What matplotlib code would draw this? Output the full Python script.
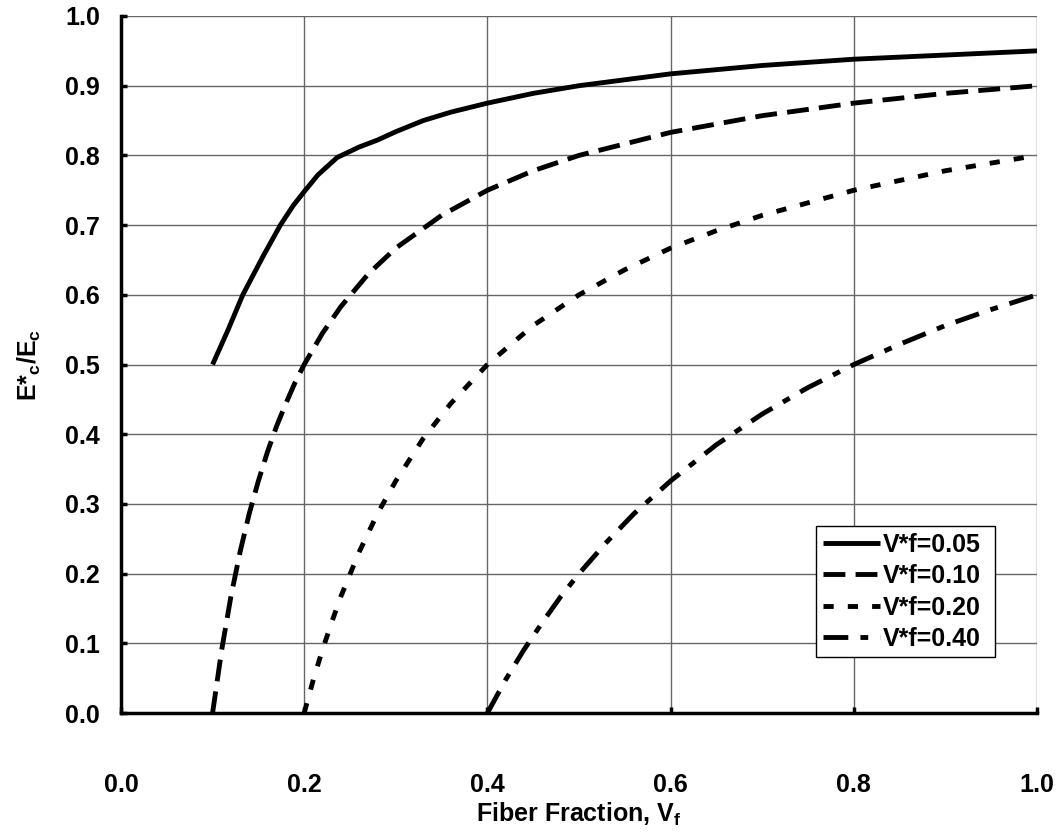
import matplotlib
matplotlib.use("Agg")
import matplotlib.pyplot as plt

plt.rcParams['font.family'] = ['Liberation Sans', 'DejaVu Sans']
plt.rcParams['mathtext.fontset'] = 'custom'
plt.rcParams['mathtext.rm'] = 'Liberation Sans:bold'
plt.rcParams['mathtext.bf'] = 'Liberation Sans:bold'

# Data
x_005 = [0.10, 0.117, 0.133, 0.155, 0.174, 0.188, 0.20, 0.215, 0.236, 0.26, 0.28, 0.30, 0.33, 0.36, 0.40, 0.45, 0.50, 0.60, 0.70, 0.80, 0.90, 1.00]
y_005 = [0.50, 0.55, 0.60, 0.655, 0.70, 0.728, 0.748, 0.772, 0.797, 0.812, 0.822, 0.834, 0.85, 0.862, 0.875, 0.889, 0.90, 0.917, 0.929, 0.938, 0.944, 0.95]

x_010 = [0.10, 0.11, 0.12, 0.13, 0.14, 0.15, 0.16, 0.17, 0.18, 0.19, 0.20, 0.22, 0.24, 0.27, 0.30, 0.35, 0.40, 0.45, 0.50, 0.60, 0.70, 0.80, 0.90, 1.00]
y_010 = [0.00, 0.091, 0.167, 0.231, 0.286, 0.333, 0.375, 0.412, 0.444, 0.474, 0.50, 0.545, 0.583, 0.63, 0.667, 0.714, 0.75, 0.778, 0.80, 0.833, 0.857, 0.875, 0.889, 0.90]

x_020 = [0.20, 0.21, 0.22, 0.23, 0.24, 0.26, 0.28, 0.30, 0.33, 0.36, 0.40, 0.45, 0.50, 0.55, 0.60, 0.65, 0.70, 0.80, 0.90, 1.00]
y_020 = [0.00, 0.048, 0.091, 0.13, 0.167, 0.231, 0.286, 0.333, 0.394, 0.444, 0.50, 0.556, 0.60, 0.636, 0.667, 0.692, 0.714, 0.75, 0.778, 0.80]

x_040 = [0.40, 0.42, 0.44, 0.46, 0.48, 0.50, 0.53, 0.56, 0.60, 0.65, 0.70, 0.75, 0.80, 0.85, 0.90, 0.95, 1.00]
y_040 = [0.00, 0.048, 0.091, 0.130, 0.167, 0.20, 0.245, 0.286, 0.333, 0.385, 0.429, 0.467, 0.50, 0.529, 0.556, 0.579, 0.60]

labels = ['V*f=0.05', 'V*f=0.10', 'V*f=0.20', 'V*f=0.40']
x_ticks = [0.0, 0.2, 0.4, 0.6, 0.8, 1.0]
y_ticks = [0.0, 0.1, 0.2, 0.3, 0.4, 0.5, 0.6, 0.7, 0.8, 0.9, 1.0]

fig = plt.figure(figsize=(10.62, 8.33), dpi=100)
ax = fig.add_axes([0.1139, 0.144, 0.8626, 0.8368])

lw = 3.5
ax.plot(x_005, y_005, color='black', lw=lw, solid_capstyle='butt', solid_joinstyle='round', label=labels[0])
ax.plot(x_010, y_010, color='black', lw=lw, dashes=(4.5, 2.1), label=labels[1])
ax.plot(x_020, y_020, color='black', lw=lw, dashes=(2.1, 2.9), label=labels[2])
ax.plot(x_040, y_040, color='black', lw=lw, dashes=(5.1, 2.5, 1.6, 2.5), label=labels[3])

ax.set_xlim(0, 1.0)
ax.set_ylim(0, 1.0)
ax.set_xticks(x_ticks)
ax.set_yticks(y_ticks)
ax.set_xticklabels([f'{v:.1f}' for v in x_ticks])
ax.set_yticklabels([f'{v:.1f}' for v in y_ticks])
ax.grid(True, color='#666666', lw=1)
ax.set_axisbelow(True)

for s in ['top', 'right']:
    ax.spines[s].set_visible(False)
for s in ['left', 'bottom']:
    ax.spines[s].set_linewidth(2.5)
    ax.spines[s].set_color('black')

fs = 18
ax.tick_params(axis='both', direction='in', length=4, width=2.5, labelsize=fs)
ax.tick_params(axis='x', pad=43)
ax.tick_params(axis='y', pad=15)
for t in ax.get_xticklabels() + ax.get_yticklabels():
    t.set_fontweight('bold')

ax.set_xlabel('Fiber Fraction, V$_\\mathrm{f}$', fontsize=fs, fontweight='bold', labelpad=3)
ax.set_ylabel('E*$_\\mathrm{c}$/E$_\\mathrm{c}$', fontsize=fs, fontweight='bold', labelpad=16)

leg = ax.legend(loc='lower left', bbox_to_anchor=(0.759, 0.080, 0.195, 0.228), mode='expand',
                fontsize=fs, frameon=True, fancybox=False, framealpha=1,
                handlelength=2.3, handletextpad=0.1, borderpad=0.25, labelspacing=0.3,
                borderaxespad=0)
leg.get_frame().set_edgecolor('black')
leg.get_frame().set_linewidth(1)
for t in leg.get_texts():
    t.set_fontweight('bold')

fig.savefig('out.png', dpi=100)
